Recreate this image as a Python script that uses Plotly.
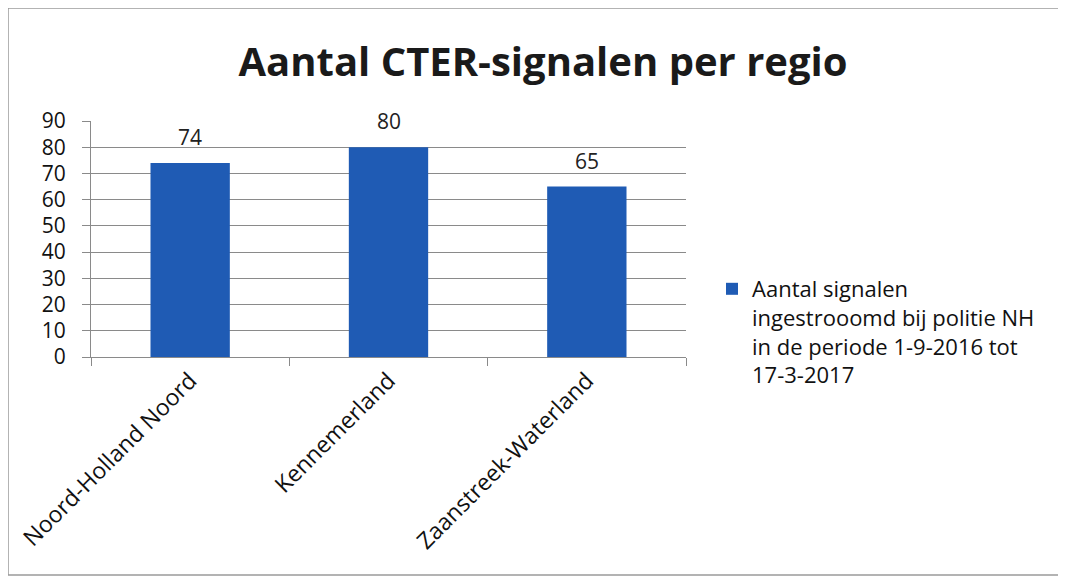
import plotly.graph_objects as go

categories = ["Noord-Holland Noord", "Kennemerland", "Zaanstreek-Waterland"]
values = [74, 80, 65]
series_name = "Aantal signalen<br>ingestrooomd bij politie NH<br>in de periode 1-9-2016 tot<br>17-3-2017"
title_text = "<b>Aantal CTER-signalen per regio</b>"

FONT = "Open Sans"
W, H = 1066, 580
OFF = 8  # page body margin
PL, PR, PT, PB = 91 - OFF, 686 - OFF, 121 - OFF, 357 - OFF
PW, PH = PR - PL, PB - PT

fig = go.Figure()
fig.add_trace(go.Bar(
    x=categories, y=values, name=series_name,
    marker=dict(color="#1F5BB4", line=dict(width=0)),
    width=0.4,
    showlegend=True,
))
for c, v in zip(categories, values):
    fig.add_annotation(x=c, y=v, text=str(v), showarrow=False, yanchor="middle",
                       yshift=26, font=dict(size=21, color="#222", family=FONT))
fig.update_layout(
    width=W, height=H,
    paper_bgcolor="white", plot_bgcolor="white",
    margin=dict(l=PL, r=W - PR, t=PT, b=H - PB, autoexpand=False),
    title=dict(text=title_text, x=(543 - OFF) / W, xanchor="center", y=1 - (62 - OFF) / H,
               yanchor="middle", font=dict(size=40, color="#1a1a1a", family=FONT)),
    font=dict(family=FONT, color="#111"),
    showlegend=True,
    legend=dict(x=(712 - 91) / PW, y=(357 - 268) / PH, xanchor="left", yanchor="top",
                valign="top", tracegroupgap=0,
                font=dict(size=22, color="#111", family=FONT),
                bgcolor="rgba(0,0,0,0)"),
)
fig.update_yaxes(range=[0, 90], dtick=10, showgrid=True, gridcolor="#8a8a8a", gridwidth=1,
                 showline=True, linecolor="#8a8a8a", ticks="outside", ticklen=8,
                 tickcolor="#8a8a8a", tickfont=dict(size=21, color="#111", family=FONT),
                 ticklabelstandoff=12, zeroline=False, automargin=False)
fig.update_xaxes(showline=True, linecolor="#8a8a8a", ticks="outside", ticklen=8,
                 tickcolor="#8a8a8a", tickangle=-45, tickson="boundaries",
                 tickfont=dict(size=23, color="#111", family=FONT), automargin=False)
fig.add_shape(type="rect", xref="paper", yref="paper",
              x0=(8 - 91) / PW, x1=1.7, y0=(357 - 575) / PH, y1=(357 - 8) / PH,
              line=dict(color="#9a9a9a", width=1.5), fillcolor="rgba(0,0,0,0)")
fig.write_html("out.html")
